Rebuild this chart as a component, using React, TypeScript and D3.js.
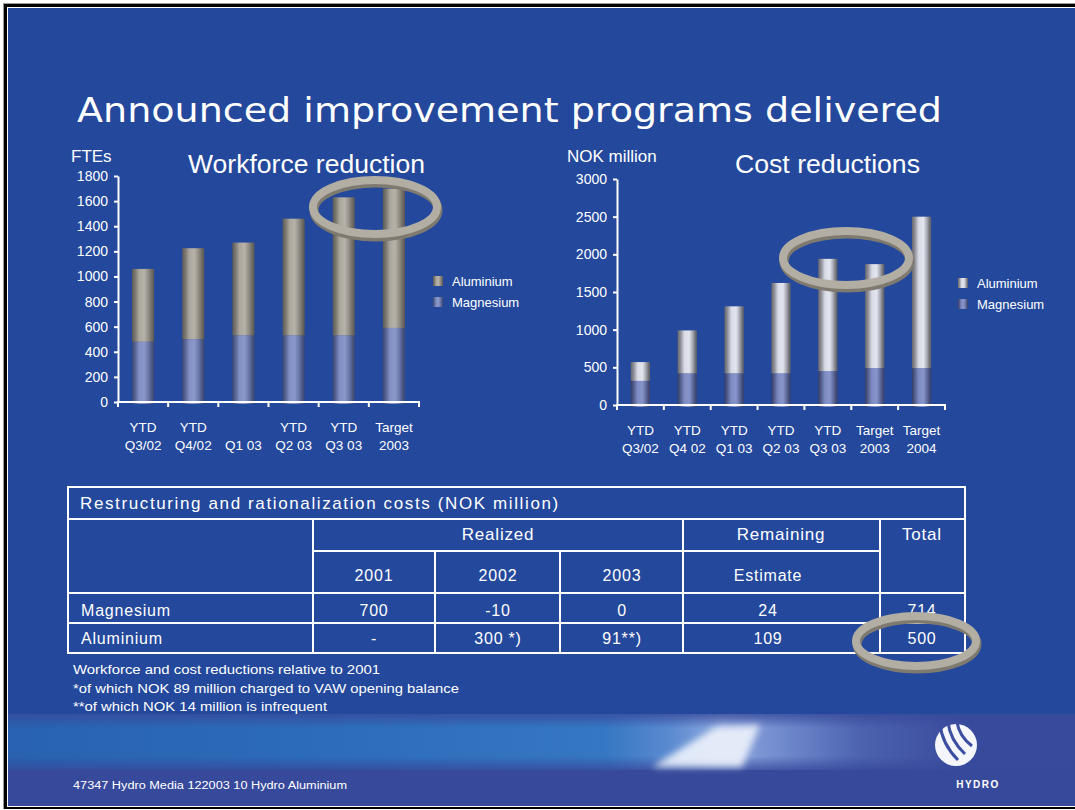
import React, { useEffect, useRef } from 'react';
import * as d3 from 'd3';

// workforce reduction (FTEs)
const workforceCategories = [
  ['YTD', 'Q3/02'],
  ['YTD', 'Q4/02'],
  ['', 'Q1 03'],
  ['YTD', 'Q2 03'],
  ['YTD', 'Q3 03'],
  ['Target', '2003'],
];
const workforceMagnesium = [480, 500, 530, 530, 530, 590];
const workforceAluminium = [580, 725, 740, 930, 1100, 1110];
const workforceTicks = [0, 200, 400, 600, 800, 1000, 1200, 1400, 1600, 1800];

// cost reductions (NOK million)
const costCategories = [
  ['YTD', 'Q3/02'],
  ['YTD', 'Q4 02'],
  ['YTD', 'Q1 03'],
  ['YTD', 'Q2 03'],
  ['YTD', 'Q3 03'],
  ['Target', '2003'],
  ['Target', '2004'],
];
const costMagnesium = [320, 420, 420, 420, 450, 490, 490];
const costAluminium = [250, 570, 890, 1200, 1490, 1380, 2010];
const costTicks = [0, 500, 1000, 1500, 2000, 2500, 3000];

const seriesNames = ['Aluminium', 'Magnesium'];

// restructuring table
const tableYears = ['2001', '2002', '2003'];
const tableRemaining = 'Estimate';
const magnesiumCosts = ['700', '-10', '0', '24', '714'];
const aluminiumCosts = ['-', '300 *)', '91**)', '109', '500'];

const footnotes = [
  'Workforce and cost reductions relative to 2001',
  '*of which NOK 89 million charged to VAW opening balance',
  '**of which NOK 14 million is infrequent',
];

const FONT = "'Liberation Sans', Arial, sans-serif";

interface ChartProps {
  id: string;
  categories: string[][];
  magnesium: number[];
  aluminium: number[];
  ticks: number[];
  left: number;
  right: number;
  top: number;
  bottom: number;
  barRatio: number;
  unit: string;
  unitX: number;
  title: string;
  titleX: number;
  titleWidth: number;
  legendX: number;
  legendY: number;
  alStops: [number, string][];
  mgStops: [number, string][];
}

const Gradient = ({ id, stops }: { id: string; stops: [number, string][] }) => (
  <linearGradient id={id} x1='0' x2='1' y1='0' y2='0'>
    {stops.map(([o, c], i) => (
      <stop key={i} offset={o} stopColor={c} />
    ))}
  </linearGradient>
);

const StackedChart: React.FC<ChartProps> = (p) => {
  const yAxisRef = useRef<SVGGElement>(null);
  const keys = p.categories.map((c) => c.join(' '));
  const yMax = p.ticks[p.ticks.length - 1];

  const x = d3.scaleBand().domain(keys).range([p.left, p.right]).padding(0);
  const y = d3.scaleLinear().domain([0, yMax]).range([p.bottom, p.top]);
  const barW = x.bandwidth() * p.barRatio;

  const rows = keys.map((k, i) => ({
    key: k,
    Magnesium: p.magnesium[i],
    Aluminium: p.aluminium[i],
  }));
  const stacked = d3.stack<any>().keys(['Magnesium', 'Aluminium'])(rows);

  useEffect(() => {
    if (!yAxisRef.current) return;
    const g = d3.select(yAxisRef.current);
    g.selectAll('*').remove();
    g.call(
      d3
        .axisLeft(y)
        .tickValues(p.ticks)
        .tickSize(4)
        .tickSizeOuter(0)
        .tickPadding(6)
        .tickFormat(d3.format('d'))
    );
    g.select('.domain').attr('stroke', '#fff').attr('stroke-width', 2);
    g.selectAll('.tick line').attr('stroke', '#fff').attr('stroke-width', 2);
    g.selectAll('.tick text')
      .attr('fill', '#fff')
      .attr('font-size', 14)
      .attr('font-family', FONT);
  }, []);

  const boundaries = [...keys.map((k) => x(k) as number), p.right];

  return (
    <g>
      <defs>
        <Gradient id={`${p.id}-al`} stops={p.alStops} />
        <Gradient id={`${p.id}-mg`} stops={p.mgStops} />
      </defs>
      <text x={p.unitX} y={162} fill='#fff' fontSize={17} fontFamily={FONT}>
        {p.unit}
      </text>
      <text
        x={p.titleX}
        y={173}
        fill='#fff'
        fontSize={25}
        fontFamily={FONT}
        textLength={p.titleWidth}
        lengthAdjust='spacingAndGlyphs'
      >
        {p.title}
      </text>

      {stacked.map((layer) => (
        <g key={layer.key} fill={`url(#${p.id}-${layer.key === 'Aluminium' ? 'al' : 'mg'})`}>
          {layer.map((d, i) => (
            <rect
              key={i}
              x={(x(keys[i]) as number) + (x.bandwidth() - barW) / 2}
              y={y(d[1])}
              width={barW}
              height={y(d[0]) - y(d[1]) + (layer.key === 'Magnesium' ? 2 : 0)}
            />
          ))}
        </g>
      ))}

      <g ref={yAxisRef} transform={`translate(${p.left},0)`} />
      <line x1={p.left - 1} x2={p.right + 1} y1={p.bottom} y2={p.bottom} stroke='#fff' strokeWidth={2} />
      {boundaries.map((bx, i) => (
        <line key={i} x1={bx} x2={bx} y1={p.bottom} y2={p.bottom + 5} stroke='#fff' strokeWidth={2} />
      ))}
      {p.categories.map((c, i) => (
        <text
          key={i}
          x={(x(keys[i]) as number) + x.bandwidth() / 2}
          textAnchor='middle'
          fill='#fff'
          fontSize={13.5}
          fontFamily={FONT}
        >
          <tspan x={(x(keys[i]) as number) + x.bandwidth() / 2} y={p.bottom + 30}>
            {c[0]}
          </tspan>
          <tspan x={(x(keys[i]) as number) + x.bandwidth() / 2} y={p.bottom + 48}>
            {c[1]}
          </tspan>
        </text>
      ))}

      {seriesNames.map((s, i) => (
        <g key={s} transform={`translate(${p.legendX},${p.legendY + i * 21})`}>
          <rect x={0} y={-5} width={10} height={10} fill={`url(#${p.id}-${s === 'Aluminium' ? 'al' : 'mg'})`} />
          <text x={19} y={5} fill='#fff' fontSize={13} fontFamily={FONT}>
            {s}
          </text>
        </g>
      ))}
    </g>
  );
};

const Ring = ({ cx, cy, rx, ry }: { cx: number; cy: number; rx: number; ry: number }) => (
  <g fill='none'>
    <ellipse cx={cx + 1} cy={cy + 3} rx={rx} ry={ry} stroke='#7f7a70' strokeWidth={9} />
    <ellipse cx={cx} cy={cy} rx={rx} ry={ry} stroke='#b3aea4' strokeWidth={8} />
  </g>
);

const App: React.FC = () => {
  const colX = [313, 435, 560, 683, 880, 965];
  const colCenters = [374, 498, 622, 768, 922];
  const tableText = { fill: '#fff', fontSize: 16, fontFamily: FONT, letterSpacing: 0.8 };

  return (
    <div style={{ position: 'absolute', left: 0, top: 0 }}>
      <svg width={1075} height={810} style={{ display: 'block' }}>
        <defs>
          <linearGradient id='band' x1='0' x2='1' y1='0' y2='0'>
            <stop offset={0} stopColor='#2862b0' />
            <stop offset={0.3} stopColor='#2c6cba' />
            <stop offset={0.56} stopColor='#3677c3' />
            <stop offset={0.62} stopColor='#5a8ad0' />
            <stop offset={0.67} stopColor='#8ea8de' />
            <stop offset={0.73} stopColor='#6e88cc' />
            <stop offset={0.8} stopColor='#4c62ae' />
            <stop offset={0.9} stopColor='#384a9c' />
          </linearGradient>
          <linearGradient id='bandV' x1='0' x2='0' y1='0' y2='1'>
            <stop offset={0} stopColor='#37499b' stopOpacity={0.8} />
            <stop offset={0.25} stopColor='#37499b' stopOpacity={0} />
            <stop offset={0.75} stopColor='#37499b' stopOpacity={0} />
            <stop offset={1} stopColor='#37499b' stopOpacity={0.8} />
          </linearGradient>
          <filter id='blur' x='-20%' y='-20%' width='140%' height='140%'>
            <feGaussianBlur stdDeviation={3.5} />
          </filter>
        </defs>

        {/* slide frame */}
        <rect x={3} y={3} width={1075} height={806} fill='#9a9a9a' />
        <rect x={4} y={4} width={1075} height={805} fill='#000' />
        <rect x={7} y={7} width={1075} height={800} fill='#fff' />
        <rect x={8} y={8} width={1075} height={798} fill='#23489c' />

        {/* footer band */}
        <rect x={8} y={714} width={1067} height={92} fill='#37499b' />
        <rect x={8} y={714} width={1067} height={56} fill='url(#band)' />
        <rect x={8} y={714} width={1067} height={56} fill='url(#bandV)' />
        <polygon points='652,767 716,727 760,725 742,767' fill='#eef3fc' opacity={0.9} filter='url(#blur)' />

        <text
          x={77}
          y={122}
          fill='#fff'
          fontSize={33}
          fontFamily="'DejaVu Sans', sans-serif"
          textLength={865}
          lengthAdjust='spacingAndGlyphs'
        >
          Announced improvement programs delivered
        </text>

        <StackedChart
          id='wf'
          categories={workforceCategories}
          magnesium={workforceMagnesium}
          aluminium={workforceAluminium}
          ticks={workforceTicks}
          left={118}
          right={419}
          top={176}
          bottom={402}
          barRatio={0.44}
          unit='FTEs'
          unitX={71}
          title='Workforce reduction'
          titleX={188}
          titleWidth={237}
          legendX={433}
          legendY={281}
          alStops={[
            [0, '#5c5a55'],
            [0.15, '#7c7972'],
            [0.32, '#aba79e'],
            [0.55, '#b6b2a8'],
            [0.75, '#908c84'],
            [0.9, '#6d6a63'],
            [1, '#5a5853'],
          ]}
          mgStops={[
            [0, '#3b4772'],
            [0.15, '#5a6797'],
            [0.32, '#8290c4'],
            [0.55, '#8997c9'],
            [0.75, '#6977a8'],
            [0.9, '#4a5682'],
            [1, '#3b4670'],
          ]}
        />

        <StackedChart
          id='cost'
          categories={costCategories}
          magnesium={costMagnesium}
          aluminium={costAluminium}
          ticks={costTicks}
          left={617}
          right={945}
          top={179}
          bottom={405}
          barRatio={0.41}
          unit='NOK million'
          unitX={567}
          title='Cost reductions'
          titleX={735}
          titleWidth={185}
          legendX={958}
          legendY={283}
          alStops={[
            [0, '#67676c'],
            [0.15, '#8d8e97'],
            [0.35, '#d8dae5'],
            [0.6, '#e3e5ee'],
            [0.8, '#a0a2ac'],
            [0.92, '#6e6f76'],
            [1, '#616168'],
          ]}
          mgStops={[
            [0, '#343d64'],
            [0.15, '#535e8d'],
            [0.35, '#7e8cc3'],
            [0.6, '#8795cb'],
            [0.8, '#5e6999'],
            [0.92, '#424c77'],
            [1, '#39426e'],
          ]}
        />

        {/* table */}
        <g stroke='#fff' strokeWidth={2} fill='none'>
          <rect x={68} y={487} width={colX[5] - 68} height={166} />
          <line x1={68} x2={colX[5]} y1={519} y2={519} />
          <line x1={colX[0]} x2={colX[4]} y1={551} y2={551} />
          <line x1={68} x2={colX[5]} y1={593} y2={593} />
          <line x1={68} x2={colX[5]} y1={623} y2={623} />
          <line x1={colX[0]} x2={colX[0]} y1={519} y2={653} />
          <line x1={colX[1]} x2={colX[1]} y1={551} y2={653} />
          <line x1={colX[2]} x2={colX[2]} y1={551} y2={653} />
          <line x1={colX[3]} x2={colX[3]} y1={519} y2={653} />
          <line x1={colX[4]} x2={colX[4]} y1={519} y2={653} />
        </g>
        <text x={80} y={509} {...tableText} fontSize={17} textLength={479} lengthAdjust='spacing'>
          Restructuring and rationalization costs (NOK million)
        </text>
        <text x={498} y={540} {...tableText} fontSize={17} textAnchor='middle'>
          Realized
        </text>
        <text x={781} y={540} {...tableText} fontSize={17} textAnchor='middle'>
          Remaining
        </text>
        <text x={922} y={540} {...tableText} fontSize={17} textAnchor='middle'>
          Total
        </text>
        {tableYears.map((yr, i) => (
          <text key={yr} x={colCenters[i]} y={581} {...tableText} textAnchor='middle'>
            {yr}
          </text>
        ))}
        <text x={colCenters[3]} y={581} {...tableText} textAnchor='middle'>
          {tableRemaining}
        </text>
        <text x={81} y={616} {...tableText}>
          Magnesium
        </text>
        <text x={81} y={644} {...tableText}>
          Aluminium
        </text>
        {magnesiumCosts.map((v, i) => (
          <text key={i} x={colCenters[i]} y={616} {...tableText} textAnchor='middle'>
            {v}
          </text>
        ))}
        {aluminiumCosts.map((v, i) => (
          <text key={i} x={colCenters[i]} y={644} {...tableText} textAnchor='middle'>
            {v}
          </text>
        ))}

        {footnotes.map((f, i) => (
          <text
            key={i}
            x={73}
            y={674 + i * 18.5}
            fill='#fff'
            fontSize={13.5}
            fontFamily="'Liberation Sans Narrow', 'Liberation Sans', Arial, sans-serif"
            textLength={[307, 386, 254][i]}
            lengthAdjust='spacingAndGlyphs'
          >
            {f}
          </text>
        ))}

        <Ring cx={375} cy={207} rx={62} ry={27} />
        <Ring cx={846} cy={258} rx={63} ry={27} />
        <Ring cx={916} cy={641} rx={60} ry={25} />

        {/* footer */}
        <text
          x={73}
          y={789}
          fill='#fff'
          fontSize={10}
          fontFamily={FONT}
          textLength={274}
          lengthAdjust='spacingAndGlyphs'
        >
          47347 Hydro Media 122003 10 Hydro Aluminium
        </text>
        <g>
          <circle cx={956} cy={745} r={21} fill='#f4f6fc' />
          <g fill='none' stroke='#3b4ea0' strokeWidth={3}>
            <path d='M940,724 Q942,744 958,760' />
            <path d='M948,722 Q950,740 965,754' />
            <path d='M957,722 Q959,736 972,746' />
          </g>
          <text
            x={978}
            y={788}
            fill='#fff'
            fontSize={10}
            fontWeight='bold'
            fontFamily={FONT}
            textAnchor='middle'
            letterSpacing={1.5}
          >
            HYDRO
          </text>
        </g>
      </svg>
    </div>
  );
};

export default App;
